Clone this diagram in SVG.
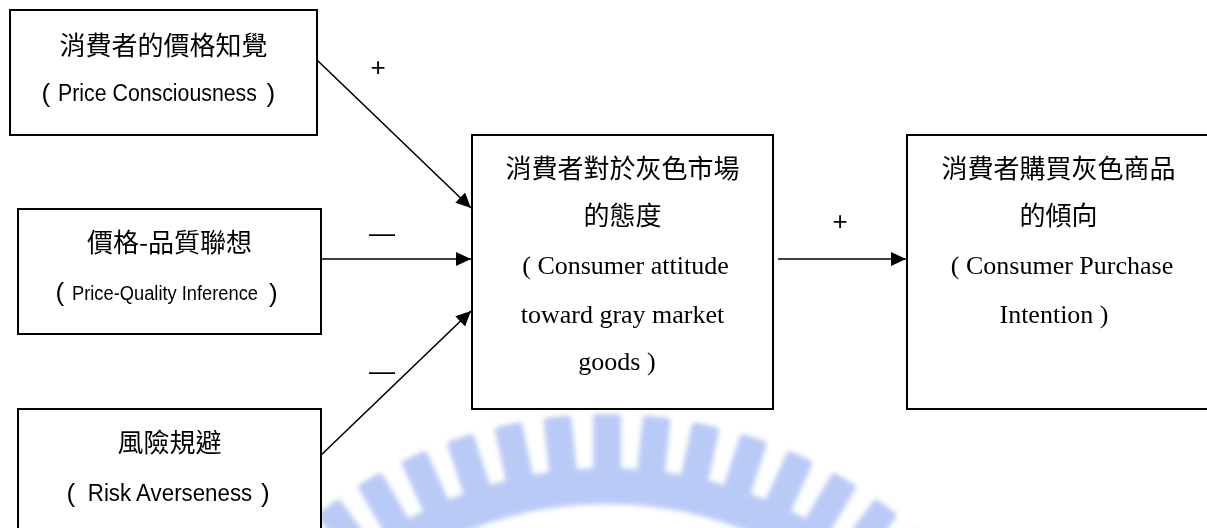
<svg xmlns="http://www.w3.org/2000/svg" width="1207" height="528" viewBox="0 0 1207 528">
  <defs>
    <style>
      .box { fill: #ffffff; stroke: #000000; stroke-width: 2; }
      .sans { font-family: "Liberation Sans", "Noto Sans CJK TC", sans-serif; fill: #000000; text-anchor: middle; }
      .paren { font-family: "Liberation Sans", sans-serif; font-size: 26px; fill: #000000; }
      .cjk { font-family: "Noto Sans CJK TC", "Liberation Sans", sans-serif; font-size: 26px; fill: #000000; text-anchor: middle; }
      .serif { font-family: "Liberation Serif", "Noto Sans CJK TC", serif; font-size: 26px; fill: #000000; text-anchor: middle; }
      .link { stroke: #000000; stroke-width: 1.6; fill: none; marker-end: url(#arrow); }
      .sign { font-family: "Liberation Sans", "Noto Sans CJK TC", sans-serif; font-size: 26px; fill: #000000; text-anchor: middle; }
      .tooth { fill: #a9bdf5; }
    </style>
    <marker id="arrow" markerUnits="userSpaceOnUse" markerWidth="16" markerHeight="15" refX="15" refY="7" orient="auto">
      <path d="M0,0 L15,7 L0,14 Z" fill="#000000"/>
    </marker>
    <filter id="soft" x="-10%" y="-10%" width="120%" height="120%">
      <feGaussianBlur stdDeviation="2.4"/>
    </filter>
  </defs>

  <rect width="1207" height="528" fill="#ffffff"/>

  <!-- faint seal in the background: toothed ring -->
  <g id="seal" filter="url(#soft)" opacity="0.8">
    <circle cx="607" cy="883" r="397" fill="none" stroke="#a9bdf5" stroke-width="36"/>
    <g class="tooth">
      <rect x="593" y="414" width="28" height="68" rx="4" transform="rotate(-42.7 607 883)"/>
      <rect x="593" y="414" width="28" height="68" rx="4" transform="rotate(-36.6 607 883)"/>
      <rect x="593" y="414" width="28" height="68" rx="4" transform="rotate(-30.5 607 883)"/>
      <rect x="593" y="414" width="28" height="68" rx="4" transform="rotate(-24.4 607 883)"/>
      <rect x="593" y="414" width="28" height="68" rx="4" transform="rotate(-18.3 607 883)"/>
      <rect x="593" y="414" width="28" height="68" rx="4" transform="rotate(-12.2 607 883)"/>
      <rect x="593" y="414" width="28" height="68" rx="4" transform="rotate(-6.1 607 883)"/>
      <rect x="593" y="414" width="28" height="68" rx="4"/>
      <rect x="593" y="414" width="28" height="68" rx="4" transform="rotate(6.1 607 883)"/>
      <rect x="593" y="414" width="28" height="68" rx="4" transform="rotate(12.2 607 883)"/>
      <rect x="593" y="414" width="28" height="68" rx="4" transform="rotate(18.3 607 883)"/>
      <rect x="593" y="414" width="28" height="68" rx="4" transform="rotate(24.4 607 883)"/>
      <rect x="593" y="414" width="28" height="68" rx="4" transform="rotate(30.5 607 883)"/>
      <rect x="593" y="414" width="28" height="68" rx="4" transform="rotate(36.6 607 883)"/>
      <rect x="593" y="414" width="28" height="68" rx="4" transform="rotate(42.7 607 883)"/>
    </g>
  </g>

  <!-- connectors -->
  <g id="connectors">
    <line class="link" x1="317" y1="60" x2="471" y2="208"/>
    <line class="link" x1="320" y1="259" x2="471" y2="259"/>
    <line class="link" x1="318" y1="458" x2="471" y2="311"/>
    <line class="link" x1="778" y1="259" x2="906" y2="259"/>
    <text class="sign" x="378" y="76">+</text>
    <text class="sign" x="382" y="242">—</text>
    <text class="sign" x="382" y="380">—</text>
    <text class="sign" x="840" y="230">+</text>
  </g>

  <g id="price-consciousness">
    <rect class="box" x="10" y="10" width="307" height="125"/>
    <text class="cjk" x="163.5" y="55">消費者的價格知覺</text>
    <text class="paren" x="41.5" y="102">(</text>
    <text class="sans" font-size="21.3" transform="translate(157.5 101) scale(1 1.12)">Price Consciousness</text>
    <text class="paren" x="266.5" y="102">)</text>
  </g>

  <g id="price-quality">
    <rect class="box" x="18" y="209" width="303" height="125"/>
    <text class="cjk" x="169.5" y="252">價格-品質聯想</text>
    <text class="paren" x="55.5" y="301" font-size="22">(</text>
    <text class="sans" font-size="18.3" transform="translate(165 300) scale(1 1.09)">Price-Quality Inference</text>
    <text class="paren" x="269" y="302">)</text>
  </g>

  <g id="risk-averseness">
    <rect class="box" x="18" y="409" width="303" height="140"/>
    <text class="cjk" x="169.5" y="452">風險規避</text>
    <text class="paren" x="66.5" y="502">(</text>
    <text class="sans" font-size="22.3" transform="translate(170 501) scale(1 1.076)">Risk Averseness</text>
    <text class="paren" x="261" y="502">)</text>
  </g>

  <g id="attitude">
    <rect class="box" x="472" y="135" width="301" height="274"/>
    <text class="cjk" x="622.5" y="178">消費者對於灰色市場</text>
    <text class="cjk" x="622.5" y="225">的態度</text>
    <text class="serif" x="625.5" y="274">( Consumer attitude</text>
    <text class="serif" x="622.5" y="323">toward gray market</text>
    <text class="serif" x="617" y="370">goods )</text>
  </g>

  <g id="purchase-intention">
    <rect class="box" x="907" y="135" width="303" height="274"/>
    <text class="cjk" x="1058.5" y="178">消費者購買灰色商品</text>
    <text class="cjk" x="1058.5" y="225">的傾向</text>
    <text class="serif" x="1062" y="274">( Consumer Purchase</text>
    <text class="serif" x="1054" y="323">Intention )</text>
  </g>
</svg>
